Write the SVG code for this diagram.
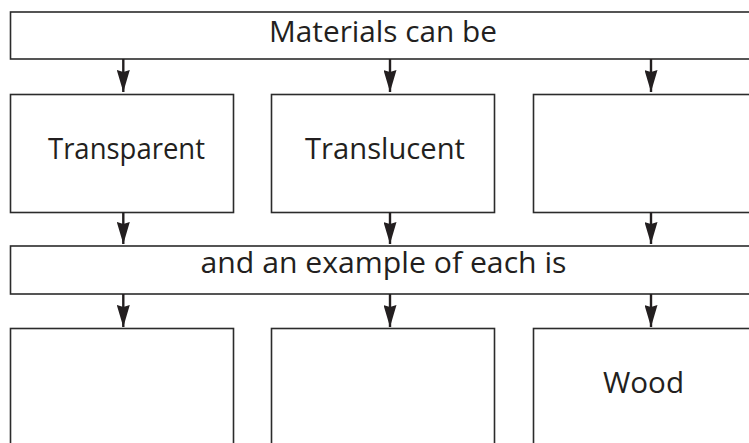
<svg xmlns="http://www.w3.org/2000/svg" width="749" height="443" viewBox="0 0 749 443">
<style>
.box{fill:#fff;stroke:#2b2b2b;stroke-width:1.6}
.lbl{font-family:"Open Sans","Noto Sans",sans-serif;font-size:30px;fill:#231f20;text-anchor:middle}
.con{stroke:#231f20;stroke-width:2.4;fill:none;marker-end:url(#ah)}
</style>
<defs>
<marker id="ah" viewBox="0 0 22 13" refX="22" refY="6.5" markerWidth="22" markerHeight="13" markerUnits="userSpaceOnUse" orient="auto">
<path d="M0,0 L22,6.5 L0,13 L2,6.5 Z" fill="#231f20"/>
</marker>
</defs>
<rect width="749" height="443" fill="#fff"/>
<g id="top"><rect class="box" x="10.5" y="12" width="760" height="47"/><text class="lbl" x="383" y="42" textLength="228" lengthAdjust="spacingAndGlyphs">Materials can be</text></g>
<g id="transparent"><rect class="box" x="10.5" y="94.5" width="223" height="118"/><text class="lbl" x="126.5" y="158.5" textLength="157" lengthAdjust="spacingAndGlyphs">Transparent</text></g>
<g id="translucent"><rect class="box" x="271.5" y="94.5" width="223" height="118"/><text class="lbl" x="385" y="159" textLength="160" lengthAdjust="spacingAndGlyphs">Translucent</text></g>
<g id="opaque"><rect class="box" x="533.5" y="94.5" width="240" height="118"/></g>
<g id="middle"><rect class="box" x="10.5" y="246" width="760" height="48"/><text class="lbl" x="383.5" y="273" textLength="366" lengthAdjust="spacingAndGlyphs">and an example of each is</text></g>
<g id="ex1"><rect class="box" x="10.5" y="328.5" width="223" height="130"/></g>
<g id="ex2"><rect class="box" x="271.5" y="328.5" width="223" height="130"/></g>
<g id="wood"><rect class="box" x="533.5" y="328.5" width="240" height="130"/><text class="lbl" x="643.5" y="393" textLength="81" lengthAdjust="spacingAndGlyphs">Wood</text></g>
<g id="connectors">
<line class="con" x1="123.3" y1="59" x2="123.3" y2="92"/>
<line class="con" x1="390" y1="59" x2="390" y2="92"/>
<line class="con" x1="651" y1="59" x2="651" y2="92"/>
<line class="con" x1="123.3" y1="212.5" x2="123.3" y2="244"/>
<line class="con" x1="390" y1="212.5" x2="390" y2="244"/>
<line class="con" x1="651" y1="212.5" x2="651" y2="244"/>
<line class="con" x1="123.3" y1="294" x2="123.3" y2="327"/>
<line class="con" x1="390" y1="294" x2="390" y2="327"/>
<line class="con" x1="651" y1="294" x2="651" y2="327"/>
</g>
</svg>
